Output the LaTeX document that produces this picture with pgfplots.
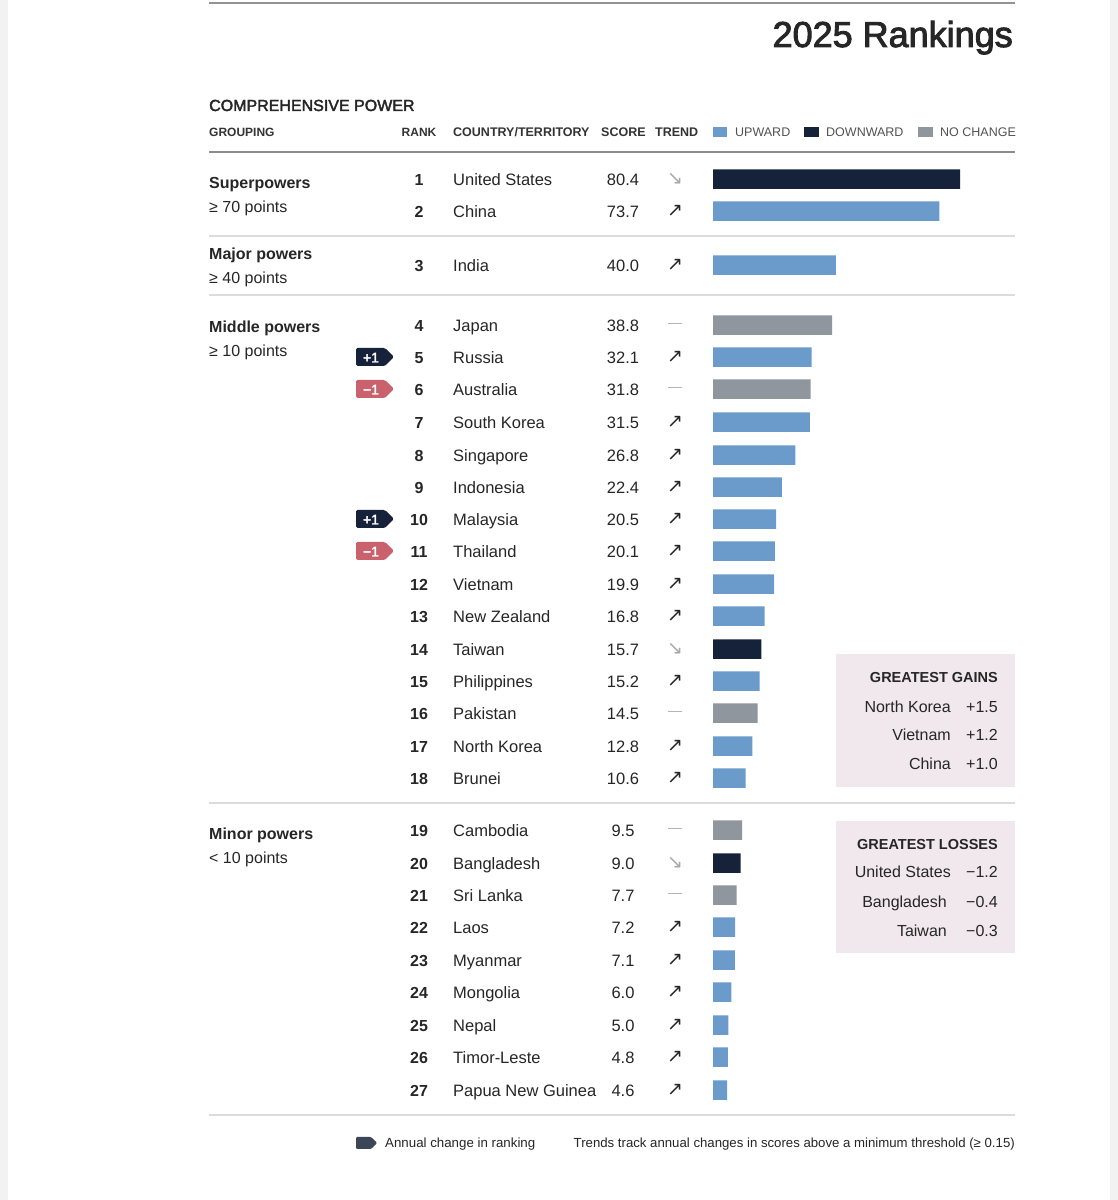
\documentclass[border=0pt]{standalone}
\usepackage{pgfplots}
\pgfplotsset{compat=1.18}
\usepackage{pgfplotstable}
\usepackage{fontspec}
\setmainfont{Liberation Sans}
\newfontfamily\sym{DejaVu Sans}
\newfontfamily\semi[FakeBold=2.5]{Liberation Sans}
\newcommand\fs[1]{\fontsize{#1}{#1}\selectfont}
\definecolor{upblue}{HTML}{6A9BCB}
\definecolor{navy}{HTML}{16213A}
\definecolor{ncgray}{HTML}{8F969E}
\definecolor{badgered}{HTML}{C9626C}
\definecolor{txt}{HTML}{262626}
\definecolor{boxbg}{HTML}{F0E8EC}
\definecolor{sepgray}{HTML}{DCDCDC}
\definecolor{hdr}{HTML}{333333}
\definecolor{slate}{HTML}{3B4656}

\pgfplotstableread{
y s
211 73.7
265 40.0
357 32.1
422 31.5
455 26.8
487 22.4
519 20.5
551 20.1
584 19.9
616 16.8
681 15.2
746 12.8
778 10.6
927 7.2
960 7.1
992 6.0
1025 5.0
1057 4.8
1090 4.6
}\upward
\pgfplotstableread{
y s
179 80.4
649 15.7
863 9.0
}\downward
\pgfplotstableread{
y s
325 38.8
389 31.8
713 14.5
830 9.5
895 7.7
}\nochange

\newcommand\UP{{\sym\fs{19}\color{txt}↗}}
\newcommand\DN{{\sym\fs{19}\color[HTML]{A8A8A8}↘}}
\newcommand\NC{{\fs{14}\color[HTML]{B0B0B0}—}}

\begin{document}
\begin{tikzpicture}
\path[use as bounding box, fill=white] (0,0) rectangle (1118pt,1200pt);
\begin{scope}[yshift=1200pt, x=1pt, y=-1pt]
  % edge strips
  \fill[gray!10] (0,0) rectangle (8,1200);
  \fill[gray!10] (1110,0) rectangle (1118,1200);
  % lines
  \draw[line width=2.5pt, color=gray!85] (209,3) -- (1015,3);
  \draw[line width=1.6pt, color=gray!90] (209,152) -- (1015,152);
  \foreach \yy in {236,295,803,1115}
    \draw[line width=1.5pt, color=sepgray] (209,\yy) -- (1015,\yy);
  % legend boxes
  \fill[boxbg] (836,654) rectangle (1015,787);
  \fill[boxbg] (836,821) rectangle (1015,953);
\end{scope}

\begin{axis}[at={(0,0)}, anchor=south west, width=1118pt, height=1200pt,
  scale only axis, xmin=-232.096, xmax=131.836, ymin=0, ymax=1200,
  y dir=reverse, hide axis, clip=false,
  xbar, bar shift=0pt, bar width=19.5]
\addplot[xbar, bar shift=0pt, draw=none, fill=upblue] table[x=s, y=y] {\upward};
\addplot[xbar, bar shift=0pt, draw=none, fill=navy] table[x=s, y=y] {\downward};
\addplot[xbar, bar shift=0pt, draw=none, fill=ncgray] table[x=s, y=y] {\nochange};
\end{axis}

\begin{scope}[yshift=1200pt, x=1pt, y=-1pt]
  % title
  \node[anchor=base east, inner sep=0pt, text=txt] at (1013,47) {\semi\fs{36}2025 Rankings};
  \node[anchor=base west, inner sep=0pt, text=txt] at (209,111) {\semi\fs{16}COMPREHENSIVE POWER};
  % column headers
  \begin{scope}[every node/.style={inner sep=0pt, text=hdr}]
    \node[anchor=base west] at (209,137) {\bfseries\fs{12}GROUPING};
    \node[anchor=base] at (419,137) {\bfseries\fs{12}RANK};
    \node[anchor=base west] at (453,137) {\bfseries\fs{12.5}COUNTRY/TERRITORY};
    \node[anchor=base west] at (601,137) {\bfseries\fs{12.5}SCORE};
    \node[anchor=base west] at (655,137) {\bfseries\fs{12.5}TREND};
    \fill[upblue] (713,127) rectangle (727,137);
    \node[anchor=base west, text=hdr!85] at (735,137) {\fs{12.5}UPWARD};
    \fill[navy] (804,127) rectangle (819,137);
    \node[anchor=base west, text=hdr!85] at (826,137) {\fs{12.5}DOWNWARD};
    \fill[ncgray] (918,127) rectangle (933,137);
    \node[anchor=base west, text=hdr!85] at (940,137) {\fs{12.5}NO CHANGE};
  \end{scope}
  % groups
  \begin{scope}[every node/.style={inner sep=0pt, text=txt, anchor=base west}]
    \node at (209,189) {\bfseries\fs{16}Superpowers};
    \node at (209,213) {\fs{16}≥ 70 points};
    \node at (209,260) {\bfseries\fs{16}Major powers};
    \node at (209,284) {\fs{16}≥ 40 points};
    \node at (209,333) {\bfseries\fs{16}Middle powers};
    \node at (209,357) {\fs{16}≥ 10 points};
    \node at (209,840) {\bfseries\fs{16}Minor powers};
    \node at (209,864) {\fs{16}< 10 points};
  \end{scope}
  % rows
  \foreach \r/\n/\s/\y/\t in {
    1/United States/80.4/179/\DN, 2/China/73.7/211/\UP, 3/India/40.0/265/\UP,
    4/Japan/38.8/325/\NC, 5/Russia/32.1/357/\UP, 6/Australia/31.8/389/\NC,
    7/South Korea/31.5/422/\UP, 8/Singapore/26.8/455/\UP, 9/Indonesia/22.4/487/\UP,
    10/Malaysia/20.5/519/\UP, 11/Thailand/20.1/551/\UP, 12/Vietnam/19.9/584/\UP,
    13/New Zealand/16.8/616/\UP, 14/Taiwan/15.7/649/\DN, 15/Philippines/15.2/681/\UP,
    16/Pakistan/14.5/713/\NC, 17/North Korea/12.8/746/\UP, 18/Brunei/10.6/778/\UP,
    19/Cambodia/9.5/830/\NC, 20/Bangladesh/9.0/863/\DN, 21/Sri Lanka/7.7/895/\NC,
    22/Laos/7.2/927/\UP, 23/Myanmar/7.1/960/\UP, 24/Mongolia/6.0/992/\UP,
    25/Nepal/5.0/1025/\UP, 26/Timor-Leste/4.8/1057/\UP, 27/Papua New Guinea/4.6/1090/\UP}
  {
    \node[anchor=base, inner sep=0pt, text=txt] at (419,\y+7) {\bfseries\fs{16}\r};
    \node[anchor=base west, inner sep=0pt, text=txt] at (453,\y+7) {\fs{16.5}\n};
    \node[anchor=base, inner sep=0pt, text=txt] at (623,\y+7) {\fs{16.5}\s};
    \node[anchor=center, inner sep=0pt] at (675,\y) {\t};
  }
  % badges
  \foreach \y/\c/\l in {357/navy/+1, 389/badgered/−1, 519/navy/+1, 551/badgered/−1}{
    \fill[\c, rounded corners=1.5pt] (356,\y-9) -- (385,\y-9) -- (394,\y) -- (385,\y+9) -- (356,\y+9) -- cycle;
    \node[anchor=base, inner sep=0pt, text=white] at (371,\y+5.5) {\semi\fs{14}\l};
  }
  % greatest gains / losses
  \begin{scope}[every node/.style={inner sep=0pt, text=txt, anchor=base east}]
    \node at (998,683) {\bfseries\fs{14.5}GREATEST GAINS};
    \node at (951,713) {\fs{16}North Korea};  \node at (998,713) {\fs{16}+1.5};
    \node at (951,741) {\fs{16}Vietnam};      \node at (998,741) {\fs{16}+1.2};
    \node at (951,770) {\fs{16}China};        \node at (998,770) {\fs{16}+1.0};
    \node at (998,850) {\bfseries\fs{14.5}GREATEST LOSSES};
    \node at (951,878) {\fs{16}United States}; \node at (998,878) {\fs{16}−1.2};
    \node at (947,908) {\fs{16}Bangladesh};    \node at (998,908) {\fs{16}−0.4};
    \node at (947,937) {\fs{16}Taiwan};        \node at (998,937) {\fs{16}−0.3};
  \end{scope}
  % footer
  \fill[slate, rounded corners=1pt] (356,1137) -- (371,1137) -- (377,1143) -- (371,1149) -- (356,1149) -- cycle;
  \node[anchor=base west, inner sep=0pt, text=txt] at (385,1148) {\fs{13.3}Annual change in ranking};
  \node[anchor=base east, inner sep=0pt, text=txt] at (1015,1148) {\fs{13.2}Trends track annual changes in scores above a minimum threshold (≥ 0.15)};
\end{scope}
\end{tikzpicture}
\end{document}
